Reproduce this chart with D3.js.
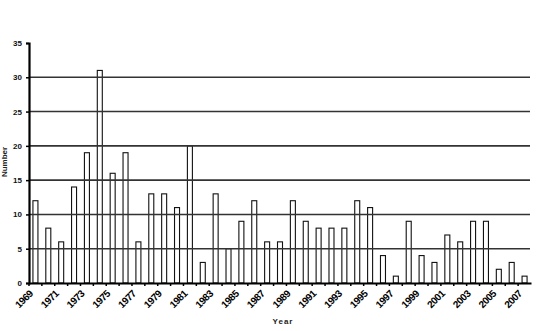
<!DOCTYPE html>
<html><head><meta charset="utf-8">
<script src="https://cdn.jsdelivr.net/npm/d3@7"></script>
<style>body{margin:0;background:#fff}svg{display:block}text{font-family:"Liberation Sans",Arial,sans-serif;font-weight:bold}</style>
</head><body><svg id="c" width="540" height="331"></svg>
<script>
const years = d3.range(1969, 2008).map(String);
const values = [12,8,6,14,19,31,16,19,6,13,13,11,20,3,13,5,9,12,6,6,12,9,8,8,8,12,11,4,1,9,4,3,7,6,9,9,2,3,1];
const yTicks = [0,5,10,15,20,25,30,35];
const xTickLabels = years.filter((d,i)=>i%2===0);

const svg = d3.select("#c");
const m = {l:29, r:531, t:43, b:283};
const x = d3.scaleBand().domain(years).range([m.l, m.r]).padding(0);
const y = d3.scaleLinear().domain([0,35]).range([m.b, m.t]);

// bars
const bw = 5;
svg.append("g").selectAll("rect").data(values).join("rect")
  .attr("x", (d,i)=>x(years[i]) + x.bandwidth()/2 - bw/2)
  .attr("y", d=>y(d))
  .attr("width", bw)
  .attr("height", d=>y(0)-y(d))
  .attr("fill","#fff").attr("stroke","#111").attr("stroke-width",1.1);

// gridlines (drawn over bars)
svg.append("g").selectAll("line").data(yTicks.filter(d=>d>0&&d<35)).join("line")
  .attr("x1", m.l).attr("x2", m.r-1)
  .attr("y1", d=>y(d)).attr("y2", d=>y(d))
  .attr("stroke","#333").attr("stroke-width",1.6);

// y axis
const ya = svg.append("g").attr("transform",`translate(${m.l},0)`)
  .call(d3.axisLeft(y).tickValues(yTicks).tickSize(3).tickPadding(4));
ya.select(".domain").attr("stroke","#000").attr("stroke-width",2.2);
ya.selectAll(".tick line").attr("stroke","#000").attr("stroke-width",1.5);
ya.selectAll("text").attr("font-size","8px").attr("fill","#111");

// x axis line
const xa = svg.append("g").attr("transform",`translate(0,${m.b})`)
  .call(d3.axisBottom(x).tickValues([]).tickSize(0));
xa.select(".domain").attr("stroke","#000").attr("stroke-width",2.2);
// band boundary ticks
svg.append("g").selectAll("line").data(years).join("line")
  .attr("x1", d=>x(d)).attr("x2", d=>x(d))
  .attr("y1", m.b).attr("y2", m.b+3)
  .attr("stroke","#000").attr("stroke-width",1.5);

// rotated tick labels, centred on their label position
svg.append("g").selectAll("text").data(xTickLabels).join("text")
  .attr("transform", d=>`translate(${x(d)+x.bandwidth()/2-11.5},${m.b+16}) rotate(-45)`)
  .attr("text-anchor","middle").attr("dy","0.35em")
  .attr("font-size","10px").attr("letter-spacing","-0.5px").attr("fill","#000")
  .text(d=>d);

// axis titles
svg.append("text").attr("x",283).attr("y",324).attr("text-anchor","middle")
  .attr("font-size","8px").attr("letter-spacing","1px").attr("fill","#222").text("Year");
svg.append("text").attr("transform","translate(4,162) rotate(-90)").attr("text-anchor","middle")
  .attr("dy","0.35em").attr("font-size","8px").attr("fill","#222").text("Number");
</script></body></html>
